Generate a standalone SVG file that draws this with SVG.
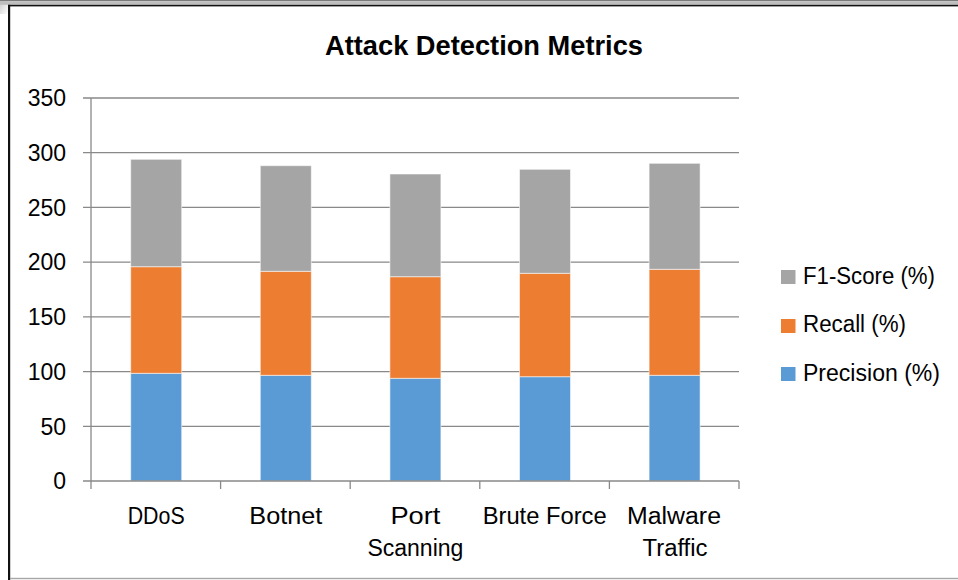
<svg xmlns="http://www.w3.org/2000/svg" width="958" height="580" viewBox="0 0 958 580">
<defs>
<style>
text{font-family:"Liberation Sans",Arial,sans-serif;fill:#000;}
.t{font-size:27px;font-weight:bold;}
.lbl{font-size:23px;}
.grid{stroke:#898989;stroke-width:1.3;fill:none;}
.p{fill:#5B9BD5;}
.r{fill:#ED7D31;}
.f{fill:#A5A5A5;}
.bar rect{stroke:#ffffff;stroke-opacity:0.55;stroke-width:1;}
</style>
<linearGradient id="tl" x1="0" y1="0" x2="1" y2="1">
<stop offset="0" stop-color="#c8c8c8"/>
<stop offset="1" stop-color="#ffffff"/>
</linearGradient>
</defs>
<rect x="0" y="0" width="958" height="580" fill="#ffffff"/>
<g id="frame">
<rect x="0" y="0" width="8" height="14" fill="url(#tl)"/>
<rect x="0" y="0" width="958" height="1.2" fill="#7a7a7a"/>
<rect x="0" y="1.2" width="958" height="3.6" fill="#bdbdbd"/>
<rect x="8" y="4.8" width="950" height="1.6" fill="#111"/>
<rect x="8" y="4.8" width="2.2" height="575.2" fill="#111"/>
<rect x="10" y="577.8" width="948" height="1.4" fill="#a6a6a6"/>
</g>
<g id="title"><text class="t" x="484" y="55" text-anchor="middle" textLength="318" lengthAdjust="spacingAndGlyphs">Attack Detection Metrics</text></g>
<g id="gridlines" class="grid">
<line x1="83" y1="98" x2="739" y2="98"/>
<line x1="83" y1="152.7" x2="739" y2="152.7"/>
<line x1="83" y1="207.4" x2="739" y2="207.4"/>
<line x1="83" y1="262.1" x2="739" y2="262.1"/>
<line x1="83" y1="316.9" x2="739" y2="316.9"/>
<line x1="83" y1="371.6" x2="739" y2="371.6"/>
<line x1="83" y1="426.3" x2="739" y2="426.3"/>
</g>
<g id="bars" class="bar">
<g id="bar-ddos">
<rect class="p" x="130.7" y="373.3" width="51" height="107.7"/>
<rect class="r" x="130.7" y="266.7" width="51" height="106.6"/>
<rect class="f" x="130.7" y="159.3" width="51" height="107.4"/>
</g>
<g id="bar-botnet">
<rect class="p" x="260.3" y="375.3" width="51" height="105.7"/>
<rect class="r" x="260.3" y="271.3" width="51" height="104"/>
<rect class="f" x="260.3" y="165.7" width="51" height="105.6"/>
</g>
<g id="bar-port">
<rect class="p" x="389.9" y="378.3" width="51" height="102.7"/>
<rect class="r" x="389.9" y="276.7" width="51" height="101.6"/>
<rect class="f" x="389.9" y="174" width="51" height="102.7"/>
</g>
<g id="bar-brute">
<rect class="p" x="519.5" y="376.7" width="51" height="104.3"/>
<rect class="r" x="519.5" y="273.3" width="51" height="103.4"/>
<rect class="f" x="519.5" y="169.3" width="51" height="104"/>
</g>
<g id="bar-malware">
<rect class="p" x="649.1" y="375.3" width="51" height="105.7"/>
<rect class="r" x="649.1" y="269.3" width="51" height="106"/>
<rect class="f" x="649.1" y="163.3" width="51" height="106"/>
</g>
</g>
<g id="axes" class="grid">
<line x1="91" y1="98" x2="91" y2="489"/>
<line x1="83" y1="481" x2="739" y2="481"/>
<line x1="220.6" y1="481" x2="220.6" y2="489"/>
<line x1="350.2" y1="481" x2="350.2" y2="489"/>
<line x1="479.8" y1="481" x2="479.8" y2="489"/>
<line x1="609.4" y1="481" x2="609.4" y2="489"/>
<line x1="739" y1="481" x2="739" y2="489"/>
</g>
<g id="y-labels" text-anchor="end">
<text class="lbl" x="66" y="106">350</text>
<text class="lbl" x="66" y="161">300</text>
<text class="lbl" x="66" y="215.5">250</text>
<text class="lbl" x="66" y="270.3">200</text>
<text class="lbl" x="66" y="325">150</text>
<text class="lbl" x="66" y="379.8">100</text>
<text class="lbl" x="66" y="434.5">50</text>
<text class="lbl" x="66" y="489">0</text>
</g>
<g id="x-labels" text-anchor="middle">
<text class="lbl" x="156.2" y="524" textLength="57" lengthAdjust="spacingAndGlyphs">DDoS</text>
<text class="lbl" x="285.8" y="524" textLength="73" lengthAdjust="spacingAndGlyphs">Botnet</text>
<text class="lbl" x="415.4" y="524" textLength="50" lengthAdjust="spacingAndGlyphs">Port</text>
<text class="lbl" x="415.4" y="556" textLength="96" lengthAdjust="spacingAndGlyphs">Scanning</text>
<text class="lbl" x="544.7" y="524" textLength="124" lengthAdjust="spacingAndGlyphs">Brute Force</text>
<text class="lbl" x="674" y="524" textLength="94" lengthAdjust="spacingAndGlyphs">Malware</text>
<text class="lbl" x="675" y="556" textLength="65" lengthAdjust="spacingAndGlyphs">Traffic</text>
</g>
<g id="legend">
<g id="legend-f1">
<rect class="f" x="781" y="270" width="14.5" height="14"/>
<text class="lbl" x="803" y="283.5" textLength="132" lengthAdjust="spacingAndGlyphs">F1-Score (%)</text>
</g>
<g id="legend-recall">
<rect class="r" x="781" y="319" width="14.5" height="14"/>
<text class="lbl" x="803" y="332" textLength="103" lengthAdjust="spacingAndGlyphs">Recall (%)</text>
</g>
<g id="legend-precision">
<rect class="p" x="781" y="367" width="14.5" height="14"/>
<text class="lbl" x="803" y="380.5" textLength="137" lengthAdjust="spacingAndGlyphs">Precision (%)</text>
</g>
</g>
</svg>
